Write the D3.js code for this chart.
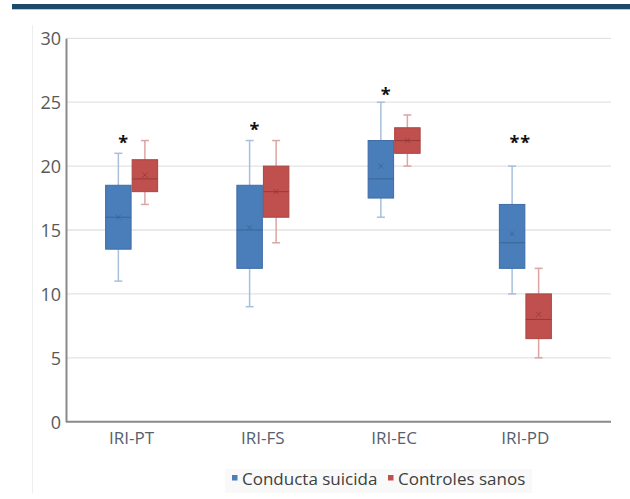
<!DOCTYPE html>
<html>
<head>
<meta charset="utf-8">
<script src="https://cdn.jsdelivr.net/npm/d3@7"></script>
<style>
  html, body { margin: 0; padding: 0; background: #fff; }
  svg { display: block; }
  text { font-family: "Open Sans", "Noto Sans", sans-serif; }
</style>
</head>
<body>
<svg id="chart" width="630" height="499"></svg>
<script>
// ---- Data ----
const categories = ["IRI-PT", "IRI-FS", "IRI-EC", "IRI-PD"];
const seriesNames = ["Conducta suicida", "Controles sanos"];
// [min, q1, median, q3, max, mean]
const suicida = [
  [11, 13.5, 16, 18.5, 21, 16.0],
  [9, 12, 15, 18.5, 22, 15.2],
  [16, 17.5, 19, 22, 25, 20.0],
  [10, 12, 14, 17, 20, 14.7]
];
const controles = [
  [17, 18, 19, 20.5, 22, 19.3],
  [14, 16, 18, 20, 22, 18.0],
  [20, 21, 22, 23, 24, 22.0],
  [5, 6.5, 8, 10, 12, 8.4]
];
const yTicks = [0, 5, 10, 15, 20, 25, 30];
const stars = [
  { cat: "IRI-PT", value: 22.25, label: "*" },
  { cat: "IRI-FS", value: 23.2, label: "*" },
  { cat: "IRI-EC", value: 26.0, label: "*" },
  { cat: "IRI-PD", value: 22.25, label: "**" }
];

// ---- Layout ----
const svg = d3.select("#chart");
const mLeft = 66, mRight = 591, gridRight = 611, mTop = 38.3, mBottom = 421.7;

const x = d3.scaleBand().domain(categories).range([mLeft, mRight]);
const sub = d3.scaleBand().domain(seriesNames).range([-26, 26]).paddingInner(0.04);
const y = d3.scaleLinear().domain([0, 30]).range([mBottom, mTop]);

const fills = ["#4a7ebb", "#c0504d"];
const strokes = ["#3d6ca6", "#a94542"];
const whisk = ["#a8bfdd", "#dba5a3"];
const darkMark = ["#35608f", "#8e3633"];

// Top banner and left border
svg.append("rect").attr("x", 12).attr("y", 4).attr("width", 618).attr("height", 5.3).attr("fill", "#1c4a6b");
svg.append("line").attr("x1", 32.5).attr("x2", 32.5).attr("y1", 25).attr("y2", 493)
  .attr("stroke", "#eeeeee").attr("stroke-width", 1);

// Gridlines
svg.append("g").selectAll("line").data(yTicks.filter(d => d > 0)).join("line")
  .attr("x1", mLeft).attr("x2", gridRight)
  .attr("y1", d => y(d)).attr("y2", d => y(d))
  .attr("stroke", "#e3e3e3").attr("stroke-width", 1.3);

// Y axis
const yAxis = d3.axisLeft(y).tickValues(yTicks).tickSize(0).tickPadding(5);
const gy = svg.append("g").attr("transform", `translate(${mLeft},0)`).call(yAxis);
gy.select(".domain").attr("stroke", "#8a8a8a").attr("stroke-width", 2);
gy.selectAll("text").attr("font-size", 18).attr("fill", "#595959").attr("dy", "0.35em");

// X axis
const xAxis = d3.axisBottom(x).tickSize(0).tickPadding(10);
const gx = svg.append("g").attr("transform", `translate(0,${mBottom})`).call(xAxis);
gx.select(".domain").attr("d", `M${mLeft},0H${gridRight}`).attr("stroke", "#8a8a8a").attr("stroke-width", 2);
gx.selectAll("text").attr("font-size", 17).attr("fill", "#56606e").attr("dy", "0.71em");

// Boxes
const all = [suicida, controles];
all.forEach((series, si) => {
  const g = svg.append("g");
  const bw = sub.bandwidth();
  series.forEach((d, ci) => {
    const cx = x(categories[ci]) + x.bandwidth() / 2 + sub(seriesNames[si]);
    const mid = cx + bw / 2;
    const [mn, q1, md, q3, mx, mean] = d;
    g.append("line").attr("x1", mid).attr("x2", mid).attr("y1", y(mx)).attr("y2", y(q3))
      .attr("stroke", whisk[si]).attr("stroke-width", 1.5);
    g.append("line").attr("x1", mid).attr("x2", mid).attr("y1", y(q1)).attr("y2", y(mn))
      .attr("stroke", whisk[si]).attr("stroke-width", 1.5);
    [mx, mn].forEach(v => {
      g.append("line").attr("x1", mid - 4).attr("x2", mid + 4).attr("y1", y(v)).attr("y2", y(v))
        .attr("stroke", whisk[si]).attr("stroke-width", 1.5);
    });
    g.append("rect").attr("x", cx).attr("y", y(q3)).attr("width", bw).attr("height", y(q1) - y(q3))
      .attr("fill", fills[si]).attr("stroke", strokes[si]).attr("stroke-width", 1);
    g.append("line").attr("x1", cx).attr("x2", cx + bw).attr("y1", y(md)).attr("y2", y(md))
      .attr("stroke", darkMark[si]).attr("stroke-width", 1).attr("opacity", 0.8);
    const s = 2.5;
    g.append("path")
      .attr("d", `M${mid - s},${y(mean) - s}L${mid + s},${y(mean) + s}M${mid - s},${y(mean) + s}L${mid + s},${y(mean) - s}`)
      .attr("stroke", darkMark[si]).attr("stroke-width", 1).attr("opacity", 0.7);
  });
});

// Significance stars
svg.append("g").selectAll("text").data(stars).join("text")
  .attr("x", d => x(d.cat) + x.bandwidth() / 2 + (d.label.length > 1 ? -5 : -8))
  .attr("y", d => y(d.value))
  .attr("dy", "0.62em")
  .attr("text-anchor", "middle")
  .attr("font-size", 18)
  .attr("font-weight", "bold")
  .attr("letter-spacing", 1)
  .attr("fill", "#111")
  .text(d => d.label);

// Legend
const lg = svg.append("g");
lg.append("rect").attr("x", 225).attr("y", 469).attr("width", 307).attr("height", 24).attr("fill", "#f9f9f9");
const legX = [232, 388];
seriesNames.forEach((name, i) => {
  lg.append("rect").attr("x", legX[i]).attr("y", 475).attr("width", 5.5).attr("height", 5.5).attr("fill", fills[i]);
  lg.append("text").attr("x", legX[i] + 10).attr("y", 485).attr("font-size", 17).attr("fill", "#404040").text(name);
});
</script>
</body>
</html>
